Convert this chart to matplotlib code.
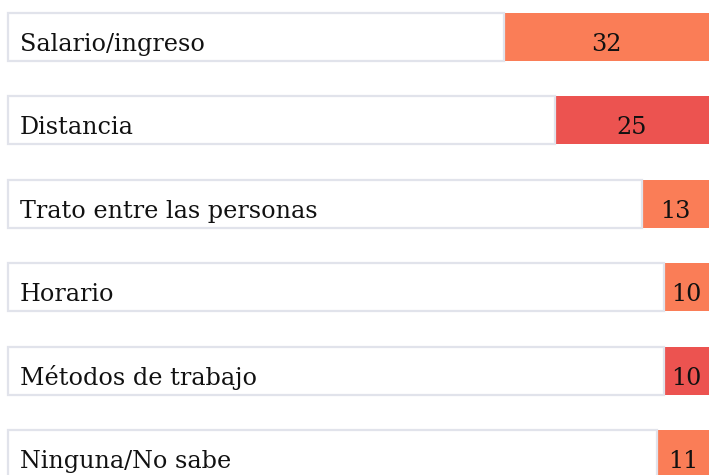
import matplotlib.pyplot as plt

# Motivos (valores en %)
labels = ["Salario/ingreso", "Distancia", "Trato entre las personas",
          "Horario", "Métodos de trabajo", "Ninguna/No sabe"]
values = [32, 25, 13, 10, 10, 11]
colors = ["#FA7D57", "#EC5350", "#FA7D57", "#FA7D57", "#EC5350", "#FA7D57"]

plt.rcParams['font.family'] = ['DejaVu Serif']

fig = plt.figure(figsize=(7.09, 4.75), dpi=100)
ax = fig.add_axes([0, 0, 1, 1])

y = list(range(len(labels)))
h = 0.576

# barras de color, alineadas a la derecha (eje x invertido)
ax.barh(y, values, left=0, height=h, color=colors, zorder=1)

# caja blanca con la etiqueta, ocupa el resto de la fila
box_w = [100 - v for v in values]
ax.barh(y, box_w, left=values, height=h, color="white",
        edgecolor="#E1E3EB", linewidth=1.6, zorder=2)

ax.set_xlim(101.1, 3.8)
ax.set_ylim(5.252, -0.444)

fs = 17.2
for i, (lab, v) in enumerate(zip(labels, values)):
    ax.annotate(lab, xy=(100, i), xytext=(12, -14), textcoords="offset pixels",
                ha="left", va="baseline", fontsize=fs, color="#111111", zorder=3)
    ax.annotate(str(v), xy=((v + 3.8) / 2, i), xytext=(0, -14),
                textcoords="offset pixels", ha="center", va="baseline",
                fontsize=fs, color="#111111", zorder=3)

ax.axis("off")
fig.savefig("out.png", dpi=100)
